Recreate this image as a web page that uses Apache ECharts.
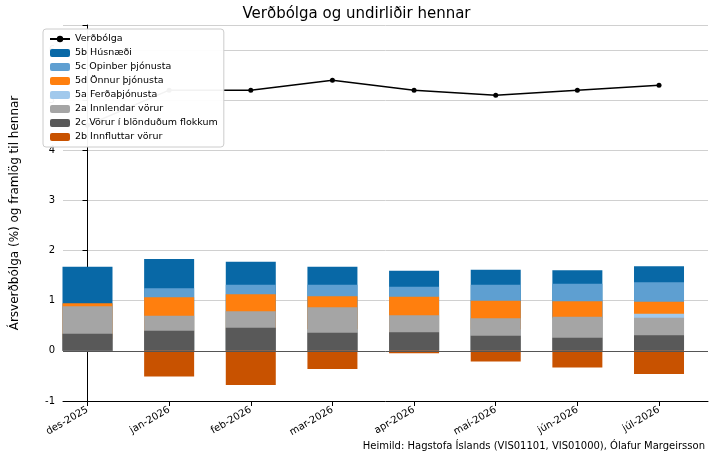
<!DOCTYPE html>
<html><head><meta charset="utf-8">
<script src="https://cdn.jsdelivr.net/npm/echarts@6/dist/echarts.min.js"></script>
<style>html,body{margin:0;padding:0;background:#fff}#c{width:713px;height:457px}</style>
</head><body><div id="c"></div>
<script>
const categories = ['des-2025','jan-2026','feb-2026','mar-2026','apr-2026','maí-2026','jún-2026','júl-2026'];
const inflation = [4.5, 5.2, 5.2, 5.4, 5.2, 5.1, 5.2, 5.3];
const s5b = [1.68, 1.83, 1.78, 1.68, 1.60, 1.62, 1.61, 1.69];
const s5c = [0.16, 1.25, 1.32, 1.32, 1.28, 1.32, 1.34, 1.37];
const s5d = [0.95, 1.07, 1.13, 1.09, 1.08, 1.00, 0.99, 0.98];
const s5a = [0.23, 0.30, 0.40, 0.43, 0.20, 0.43, 0.65, 0.74];
const s2a = [0.89, 0.70, 0.79, 0.87, 0.71, 0.65, 0.68, 0.66];
const s2c = [0.34, 0.40, 0.46, 0.36, 0.37, 0.30, 0.26, 0.31];
const s2b = [0, -0.51, -0.68, -0.36, -0.05, -0.21, -0.33, -0.46];
const yTicks = [-1, 0, 1, 2, 3, 4, 5, 6];
const xIdx = categories.map((c,i)=>i);
const pts = arr => arr.map((v,i)=>[i,v]);

const bar = (name, data, color) => ({name, type:'bar', stack:'pos', data:pts(data), barWidth:50, itemStyle:{color}});
const chart = echarts.init(document.getElementById('c'));
chart.setOption({
  animation:false,
  title:{text:'Verðbólga og undirliðir hennar', left:'center', top:2, textStyle:{fontFamily:'DejaVu Sans', fontSize:15, fontWeight:'normal', color:'#000'}},
  graphic:[{type:'text', right:8, bottom:6, style:{text:'Heimild: Hagstofa Íslands (VIS01101, VIS01000), Ólafur Margeirsson', font:'10px DejaVu Sans', fill:'#000'}}],
  legend:{left:43, top:29, orient:'vertical', itemGap:4, itemWidth:20, itemHeight:8, backgroundColor:'rgba(255,255,255,0.95)', borderColor:'#ccc', borderWidth:1, borderRadius:3, padding:[5,6],
    textStyle:{fontFamily:'DejaVu Sans', fontSize:9.5, color:'#000'}, z:20,
    data:['Verðbólga','5b Húsnæði','5c Opinber þjónusta','5d Önnur þjónusta','5a Ferðaþjónusta','2a Innlendar vörur','2c Vörur í blönduðum flokkum','2b Innfluttar vörur']},
  grid:{left:63, right:5, top:25, bottom:56},
  xAxis:{type:'value', min:-0.3, max:7.6, splitLine:{show:false},
    axisLine:{show:true, onZero:false, lineStyle:{color:'#000'}},
    axisTick:{show:true, customValues:xIdx, lineStyle:{color:'#000'}},
    axisLabel:{customValues:xIdx, formatter:v=>categories[Math.round(v)], rotate:30, color:'#000', fontFamily:'DejaVu Sans', fontSize:10, margin:8}},
  yAxis:{type:'value', min:-1, max:6.5, interval:1, name:'Ársverðbólga (%) og framlög til hennar', nameLocation:'middle', nameGap:42,
    nameTextStyle:{fontFamily:'DejaVu Sans', fontSize:12, color:'#000'},
    axisLine:{show:true, lineStyle:{color:'#000'}}, axisTick:{show:true, lineStyle:{color:'#000'}},
    axisLabel:{color:'#000', fontFamily:'DejaVu Sans', fontSize:10, formatter:v=>yTicks.includes(v)?String(v):''},
    splitLine:{lineStyle:{color:'#d0d0d0'}}},
  series:[
    bar('5b Húsnæði', s5b, '#0868a6'),
    bar('5c Opinber þjónusta', s5c, '#5e9fd1'),
    bar('5d Önnur þjónusta', s5d, '#ff7f0e'),
    bar('5a Ferðaþjónusta', s5a, '#a1c9ec'),
    bar('2a Innlendar vörur', s2a, '#a5a5a5'),
    bar('2c Vörur í blönduðum flokkum', s2c, '#595959'),
    {name:'2b Innfluttar vörur', type:'bar', stack:'neg', data:pts(s2b), barWidth:50, barGap:'-100%', itemStyle:{color:'#c85200'},
      markLine:{silent:true, symbol:'none', label:{show:false}, lineStyle:{color:'#555', type:'solid', width:1}, data:[{yAxis:0}]}},
    {name:'Verðbólga', type:'line', data:pts(inflation), symbol:'circle', symbolSize:5, itemStyle:{color:'#000'}, lineStyle:{color:'#000', width:1.5}, z:10}
  ]
});
</script></body></html>
